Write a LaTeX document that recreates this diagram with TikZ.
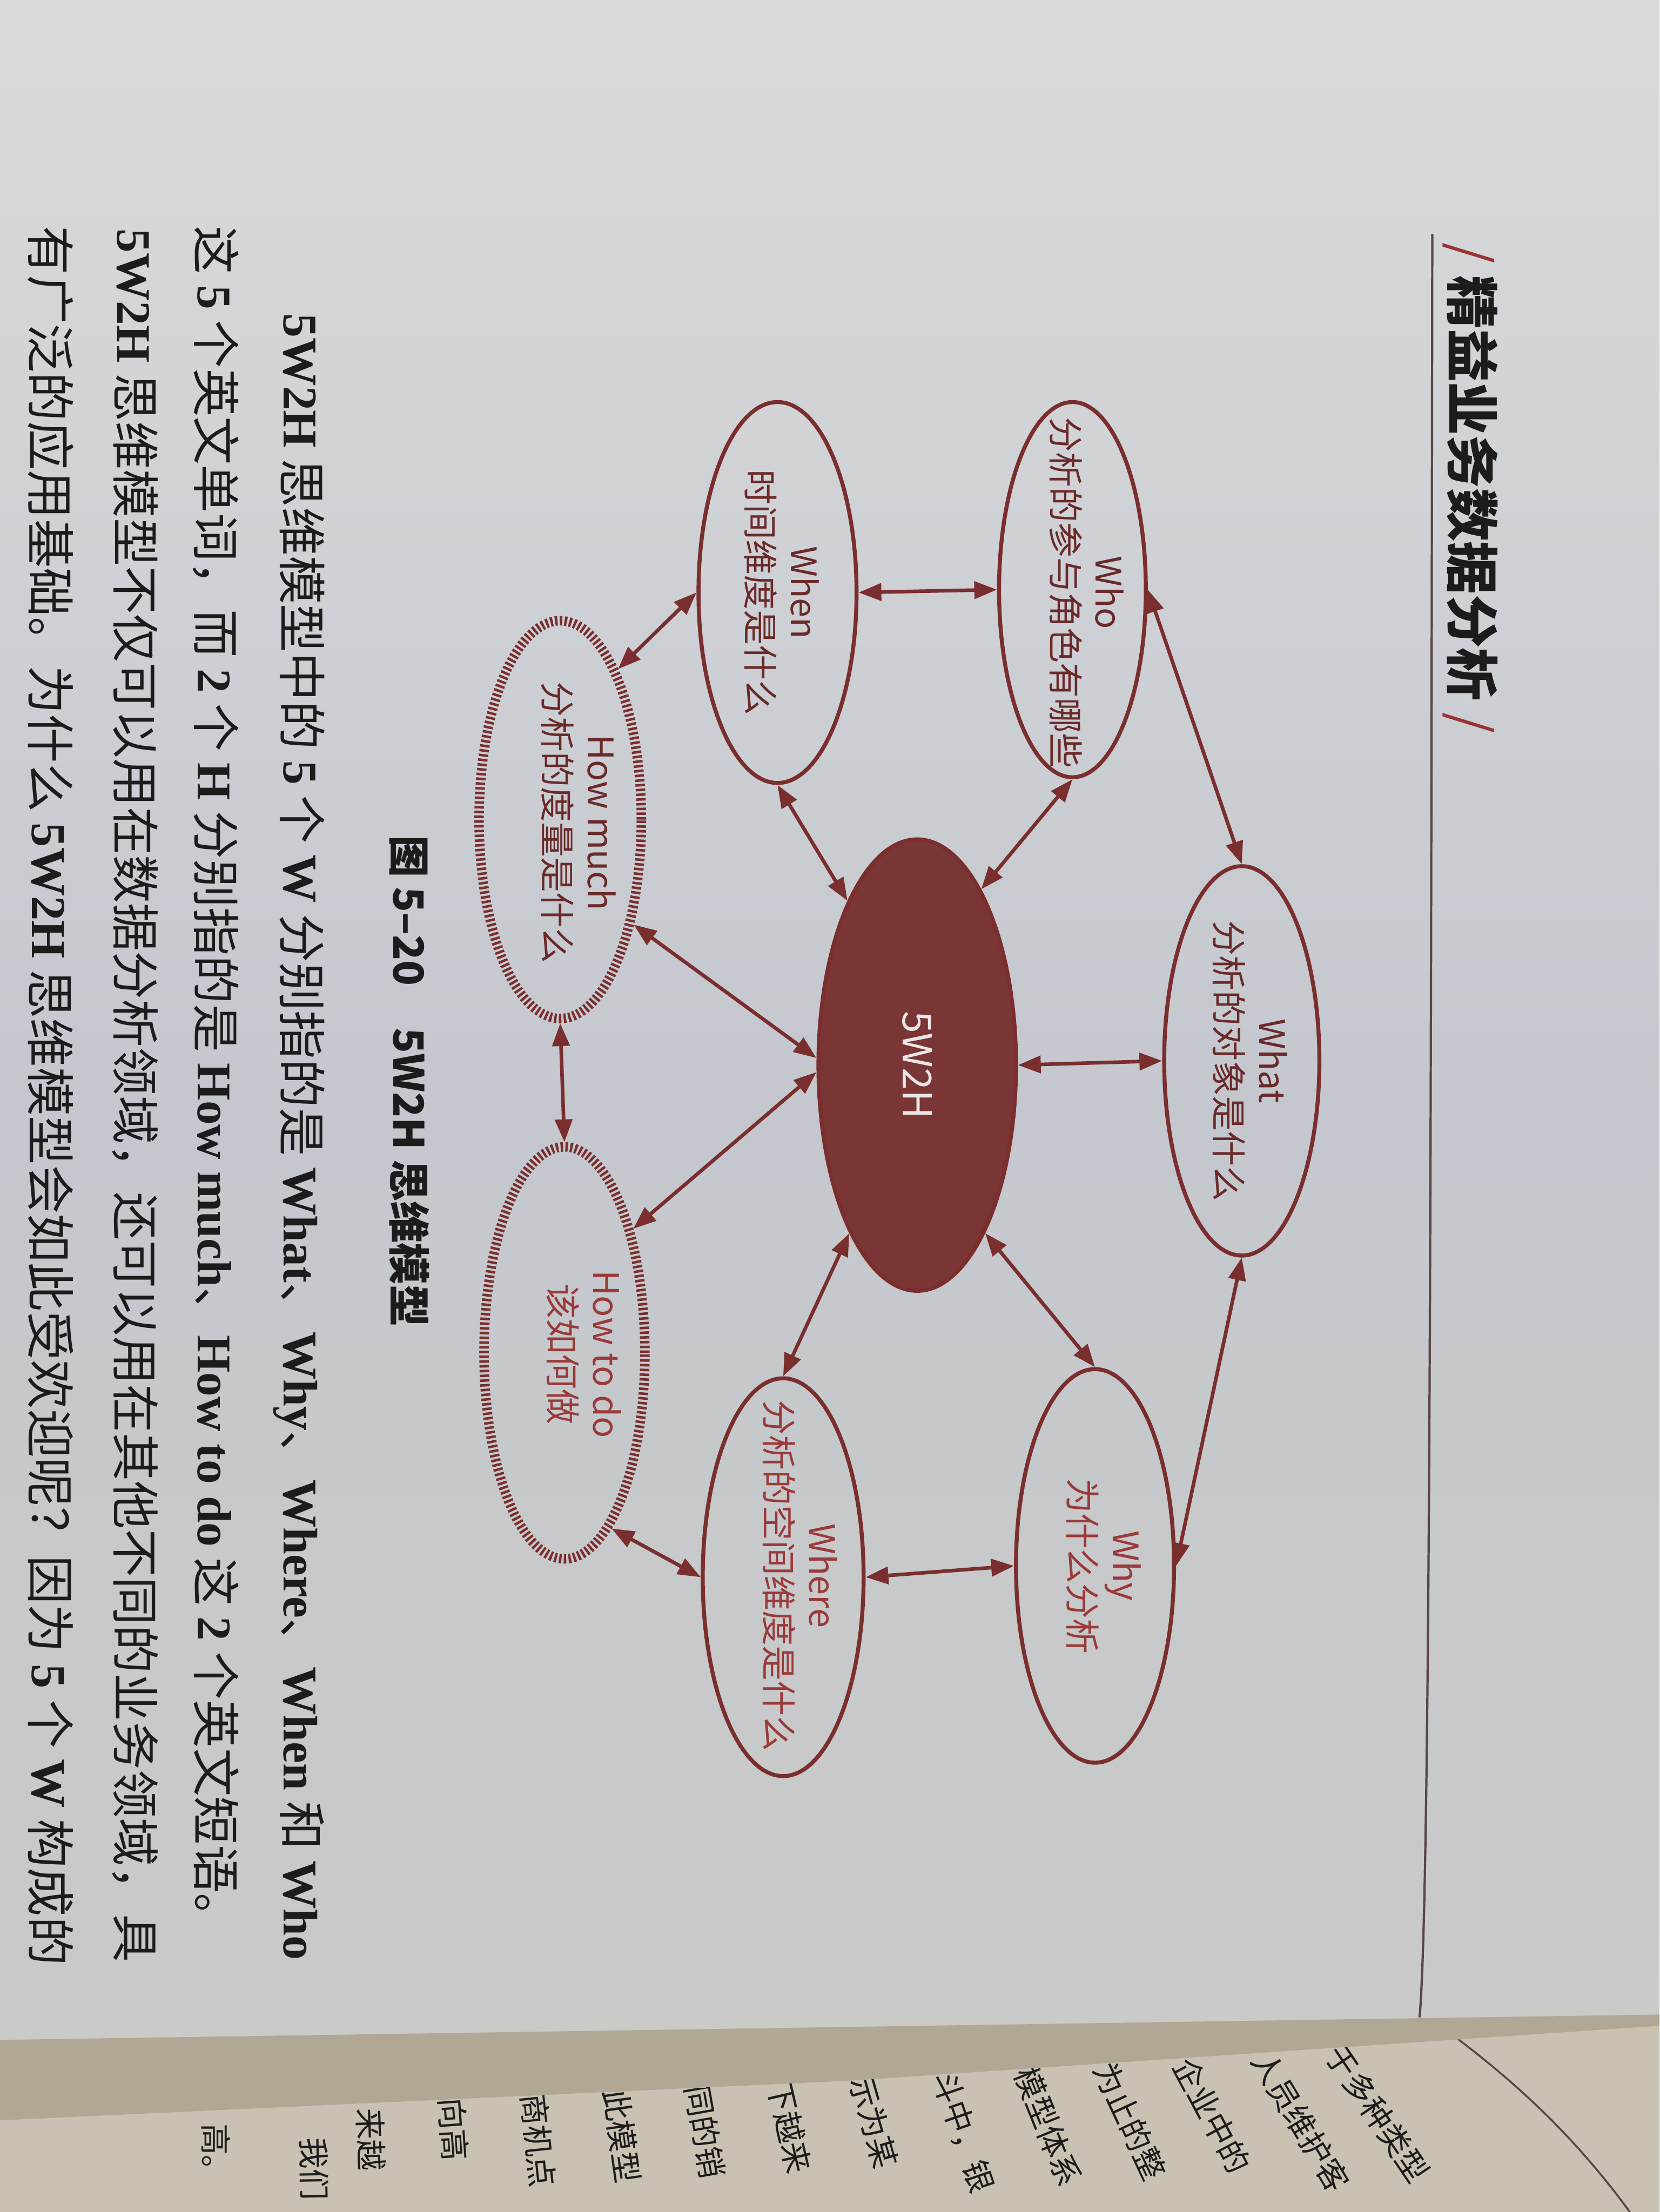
\documentclass[tikz,border=0pt]{standalone}
\usepackage{fontspec}
\usepackage{graphicx}
\usetikzlibrary{shapes.geometric,arrows.meta}
\newfontfamily\cjk{Noto Sans CJK SC}
\newfontfamily\lat{Liberation Serif}
\newcommand{\EN}[1]{{\lat\bfseries #1}}
\definecolor{ered}{HTML}{7A2E2E}
\definecolor{etxt}{HTML}{6A2A2A}
\definecolor{etxtl}{HTML}{9A3A3A}
\definecolor{cfill}{HTML}{7A3535}
\definecolor{ctext}{HTML}{ECE6E6}
\definecolor{paperA}{HTML}{D9DADC}
\definecolor{paperB}{HTML}{C4C8CE}
\definecolor{paperC}{HTML}{CBCAC6}
\definecolor{nextpage}{HTML}{C9C1B1}
\definecolor{band}{HTML}{B0A895}
\definecolor{ink}{HTML}{1C1C1C}
\definecolor{slash}{HTML}{9A3434}
\definecolor{rule}{HTML}{5A4646}
\begin{document}
\begin{tikzpicture}[x=0.026122cm,y=-0.026122cm,
  ell/.style={ellipse,draw=ered,line width=2.1pt,inner sep=0pt},
  dell/.style={ellipse,draw=ered,line width=5pt,dash pattern=on 1.3pt off 1.2pt,inner sep=0pt},
  etx/.style={rotate=-90,align=center,text=etxt,inner sep=0pt,font=\cjk\fontsize{18.5}{23}\selectfont},
  etxl/.style={etx,text=etxtl},
  arr/.style={draw=ered,line width=1.9pt,{Triangle[length=12pt,width=9pt]}-{Triangle[length=12pt,width=9pt]}},
  body/.style={rotate=-90,anchor=west,inner sep=0pt,text=ink,font=\cjk\fontsize{27}{30}\selectfont},
  frag/.style={anchor=west,inner sep=0pt,text=ink,font=\cjk\fontsize{16.5}{18}\selectfont}
]
\useasboundingbox (0,0) rectangle (1176,1568);
% paper
\shade[top color=paperA, bottom color=paperC, middle color=paperB] (0,0) rectangle (1176,1568);
\fill[nextpage] (0,1503) -- (600,1475) -- (1176,1436) -- (1176,1568) -- (0,1568) -- cycle;
\fill[band] (0,1446) -- (1176,1428) -- (1176,1436) -- (600,1475) -- (0,1503) -- cycle;
% header
\draw[rule,line width=1.2pt] (1015,166) .. controls (1014,900) and (1013,1350) .. (1006,1430);
\node[rotate=-90,anchor=west,inner sep=0pt,text=ink,font=\cjk\fontsize{28}{30}\selectfont] (hdr) at (1042,172) {\textcolor{slash}{/}\ {\bfseries 精益业务数据分析}\ \textcolor{slash}{/}};
% ellipses
\node[ell,fill=cfill,minimum width=3.657cm,minimum height=8.359cm] (C) at (650,755) {};
\node[rotate=-90,text=ctext,inner sep=0pt,font=\cjk\fontsize{21}{24}\selectfont] (Ct) at (650,755) {5W2H};
\node[ell,minimum width=2.873cm,minimum height=7.21cm] (What) at (880,752) {};
\node[etx] (Whatt) at (886,752) {What\\分析的对象是什么};
\node[ell,minimum width=2.717cm,minimum height=6.948cm] (Who) at (760,418) {};
\node[etx] (Whot) at (770,420) {Who\\分析的参与角色有哪些};
\node[ell,minimum width=2.926cm,minimum height=7.053cm] (When) at (551,420) {};
\node[etx] (Whent) at (554,420) {When\\时间维度是什么};
\node[dell,minimum width=3.004cm,minimum height=7.366cm] (HM) at (397,581) {};
\node[etx] (HMt) at (410,583) {How much\\分析的度量是什么};
\node[dell,minimum width=2.978cm,minimum height=7.628cm] (HT) at (400,959) {};
\node[etxl] (HTt) at (414,960) {How to do\\该如何做};
\node[ell,minimum width=2.978cm,minimum height=7.366cm] (Where) at (555,1118) {};
\node[etxl] (Wheret) at (567,1117) {Where\\分析的空间维度是什么};
\node[ell,minimum width=2.926cm,minimum height=7.288cm] (Why) at (776,1110) {};
\node[etxl] (Whyt) at (782,1110) {Why\\为什么分析};
% connectors
\draw[arr] (C.east) -- (What.west);
\draw[arr] (C.70) -- (Who.south);
\draw[arr] (C.113) -- (When.south);
\draw[arr] (C.176) -- (HM.-55);
\draw[arr] (C.184) -- (HT.61);
\draw[arr] (C.248) -- (Where.north);
\draw[arr] (C.292) -- (Why.north);
\draw[arr] (Who.west) -- (When.east);
\draw[arr] (Who.east) -- (What.north);
\draw[arr] (What.south) -- (Why.east);
\draw[arr] (Why.west) -- (Where.east);
\draw[arr] (Where.west) -- (HT.-75);
\draw[arr] (When.west) -- (HM.69);
\draw[arr] (HM.south) -- (HT.north);
% caption
\node[rotate=-90,anchor=west,inner sep=0pt,text=ink,font=\cjk\bfseries\fontsize{22}{24}\selectfont] (cap) at (290,592) {图 5–20\quad 5W2H 思维模型};
% body text
\node[body] (L1) at (212,222) {\resizebox{30.49cm}{!}{\EN{5W2H} 思维模型中的 \EN{5} 个 \EN{W} 分别指的是 \EN{What}、\EN{Why}、\EN{Where}、\EN{When} 和 \EN{Who}}};
\node[body] (L2) at (153,160) {\resizebox{31.76cm}{!}{这 \EN{5} 个英文单词，而 \EN{2} 个 \EN{H} 分别指的是 \EN{How much}、\EN{How to do} 这 \EN{2} 个英文短语。}};
\node[body] (L3) at (96,162) {\resizebox{32.10cm}{!}{\EN{5W2H} 思维模型不仅可以用在数据分析领域，还可以用在其他不同的业务领域，具}};
\node[body] (L4) at (36,160) {\resizebox{32.21cm}{!}{有广泛的应用基础。为什么 \EN{5W2H} 思维模型会如此受欢迎呢？因为 \EN{5} 个 \EN{W} 构成的}};
% next page
\begin{scope}
\clip (0,1503) -- (600,1475) -- (1176,1436) -- (1176,1568) -- (0,1568) -- cycle;
\draw[rule,line width=1pt] (1026,1440) .. controls (1080,1480) and (1120,1520) .. (1155,1568);
\node[frag,rotate=-56] (f0) at (945,1452) {于多种类型};
\node[frag,rotate=-59] (f1) at (893,1456) {人员维护客};
\node[frag,rotate=-62] (f2) at (838,1460) {企业中的};
\node[frag,rotate=-65] (f3) at (782,1463) {为止的整};
\node[frag,rotate=-68] (f4) at (726,1466) {模型体系};
\node[frag,rotate=-71] (f5) at (668,1469) {斗中，银};
\node[frag,rotate=-74] (f6) at (610,1472) {示为某};
\node[frag,rotate=-77] (f7) at (552,1475) {下越来};
\node[frag,rotate=-80] (f8) at (494,1478) {同的销};
\node[frag,rotate=-82] (f9) at (436,1481) {此模型};
\node[frag,rotate=-84] (f10) at (378,1484) {商机点};
\node[frag,rotate=-86] (f11) at (320,1487) {向高};
\node[frag,rotate=-88] (f12) at (262,1494) {来越};
\node[frag,rotate=-89] (f13) at (222,1515) {我们};
\node[frag,rotate=-90] (f14) at (153,1505) {高。};
\end{scope}
\end{tikzpicture}
\end{document}
